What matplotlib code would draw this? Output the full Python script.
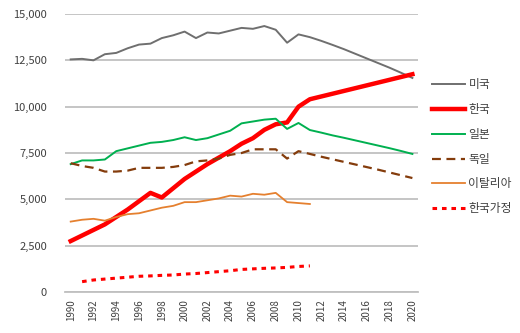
import numpy as np
import matplotlib.pyplot as plt

plt.rcParams['font.family'] = ['Noto Sans CJK KR', 'DejaVu Sans']

years = np.arange(1990, 2021)
years_hist = np.arange(1990, 2012)
years_hh = np.arange(1991, 2012)

usa = [12550, 12580, 12500, 12830, 12900, 13150, 13350, 13400, 13700, 13850,
       14050, 13700, 14000, 13950, 14100, 14250, 14200, 14350, 14150, 13450,
       13900, 13750, 13550, 13330, 13100, 12850, 12600, 12350, 12100, 11830, 11550]
korea = [2750, 3050, 3350, 3650, 4050, 4450, 4900, 5350, 5100, 5600,
         6100, 6500, 6900, 7250, 7600, 8000, 8300, 8750, 9050, 9150,
         10000, 10400, 10550, 10700, 10850, 11000, 11150, 11300, 11450, 11600, 11750]
japan = [6900, 7100, 7100, 7150, 7600, 7750, 7900, 8050, 8100, 8200,
         8350, 8200, 8300, 8500, 8700, 9100, 9200, 9300, 9350, 8800,
         9120, 8740, 8600, 8450, 8320, 8180, 8040, 7900, 7760, 7610, 7450]
germany = [6950, 6800, 6700, 6500, 6500, 6550, 6700, 6700, 6700, 6750,
           6850, 7050, 7100, 7200, 7400, 7500, 7700, 7700, 7700, 7200,
           7600, 7450, 7300, 7160, 7020, 6880, 6740, 6600, 6450, 6300, 6150]
italy = [3800, 3900, 3950, 3850, 4050, 4200, 4250, 4400, 4550, 4650,
         4850, 4850, 4950, 5050, 5200, 5150, 5300, 5250, 5350, 4850,
         4800, 4750]
korea_hh = [560, 650, 700, 750, 800, 850, 870, 900, 920, 970,
            1000, 1050, 1100, 1150, 1220, 1250, 1280, 1300, 1330, 1380, 1410]

fig = plt.figure(figsize=(5.2, 3.33), dpi=100)
ax = fig.add_axes([0.125, 0.123, 0.679, 0.835])

ax.plot(years, usa, color='#6f6f6f', lw=1.4, label='미국')
ax.plot(years, korea, color='#ff0000', lw=3.2, label='한국')
ax.plot(years, japan, color='#00b050', lw=1.4, label='일본')
ax.plot(years, germany, color='#843c0c', lw=1.6, ls=(0, (4, 2.5)), label='독일')
ax.plot(years_hist, italy, color='#e5802f', lw=1.3, label='이탈리아')
ax.plot(years_hh, korea_hh, color='#ff0000', lw=2.2, ls=(0, (1.5, 1.6)), label='한국가정')

ax.set_xlim(1989.5, 2020.5)
ax.set_ylim(0, 15000)
ax.set_yticks(np.arange(0, 15001, 2500))
ax.set_yticklabels(['0', '2,500', '5,000', '7,500', '10,000', '12,500', '15,000'])
ax.set_xticks(np.arange(1990, 2021, 2))
ax.set_xticklabels([str(y) for y in range(1990, 2021, 2)], rotation=90)
ax.tick_params(axis='both', length=0, colors='#404040')
ax.tick_params(axis='y', pad=13, labelsize=8)
ax.tick_params(axis='x', pad=5, labelsize=7)
ax.grid(axis='y', color='#c0c0c0', lw=1.3)
ax.set_axisbelow(True)
for s in ['left', 'right', 'top']:
    ax.spines[s].set_visible(False)
ax.spines['bottom'].set_color('#c0c0c0')
ax.spines['bottom'].set_linewidth(1.3)

ax.legend(loc='upper left', bbox_to_anchor=(0.81, 0.797), bbox_transform=fig.transFigure,
          frameon=False, fontsize=8.5, handlelength=2.8, handletextpad=0.3,
          labelspacing=1.0, labelcolor='#404040')

fig.savefig('out.png', dpi=100)
